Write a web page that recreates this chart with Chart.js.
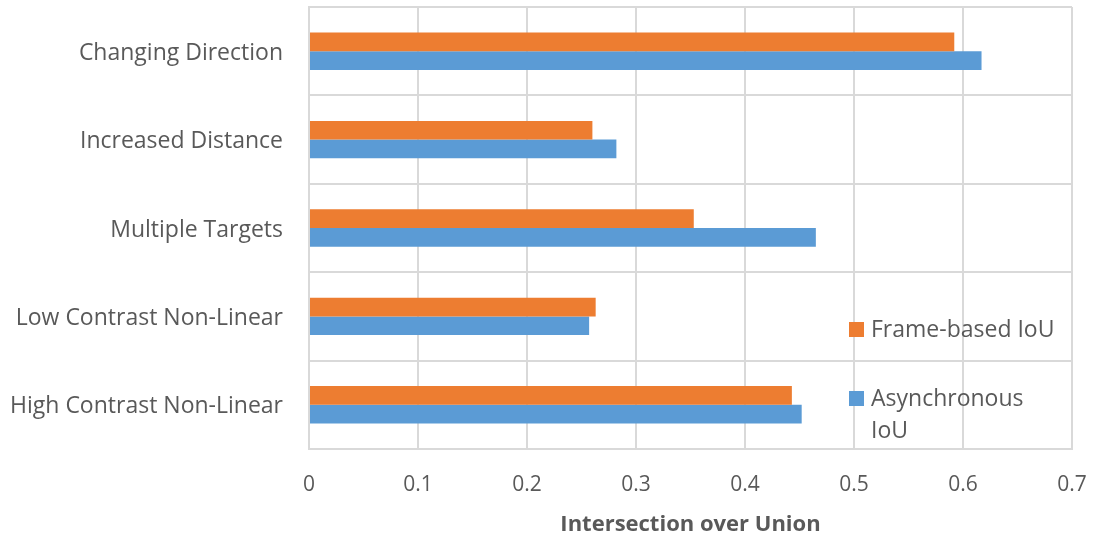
<!DOCTYPE html>
<html>
<head>
<meta charset="utf-8">
<script src="https://cdn.jsdelivr.net/npm/chart.js@4/dist/chart.umd.min.js"></script>
<style>
  html, body { margin: 0; padding: 0; background: #ffffff; }
  #wrap { position: relative; width: 1093px; height: 540px; }
</style>
</head>
<body>
<div id="wrap"><canvas id="chart" width="1093" height="540"></canvas></div>
<script>
// Scenarios (top to bottom) and IoU results per tracker
const categories = [
  "Changing Direction",
  "Increased Distance",
  "Multiple Targets",
  "Low Contrast Non-Linear",
  "High Contrast Non-Linear"
];
const frameBasedIoU   = [0.592, 0.260, 0.353, 0.263, 0.443];
const asynchronousIoU = [0.617, 0.282, 0.465, 0.257, 0.452];
const xTickLabels = ["0", "0.1", "0.2", "0.3", "0.4", "0.5", "0.6", "0.7"];
const seriesNames = ["Frame-based IoU", "Asynchronous IoU"];

const TEXT = "#595959";
const GRID = "#d9d9d9";
const FONT = "'Open Sans', 'DejaVu Sans', sans-serif";

// Legend drawn inside the plot area, lower right, with word wrapping
const insideLegend = {
  id: "insideLegend",
  afterDraw(chart) {
    const { ctx, chartArea } = chart;
    const boxLeft = chartArea.left + 540;
    const rows = [chartArea.bottom - 127, chartArea.bottom - 58];
    const maxWidth = 190;
    ctx.save();
    ctx.font = "23px " + FONT;
    ctx.textBaseline = "alphabetic";
    chart.data.datasets.forEach((ds, i) => {
      const top = rows[i];
      ctx.fillStyle = ds.backgroundColor;
      ctx.fillRect(boxLeft, top, 15, 15);
      // wrap words that do not fit the legend width
      const words = ds.label.split(" ");
      const lines = [];
      let line = "";
      words.forEach(w => {
        const test = line ? line + " " + w : w;
        if (ctx.measureText(test).width > maxWidth && line) {
          lines.push(line);
          line = w;
        } else {
          line = test;
        }
      });
      lines.push(line);
      ctx.fillStyle = TEXT;
      lines.forEach((l, j) => {
        ctx.fillText(l, boxLeft + 22, top + 15 + j * 32);
      });
    });
    ctx.restore();
  }
};

new Chart(document.getElementById("chart"), {
  type: "bar",
  data: {
    labels: categories,
    datasets: [
      {
        label: seriesNames[0],
        data: frameBasedIoU,
        backgroundColor: "#ED7D31",
        barPercentage: 1,
        categoryPercentage: 0.423
      },
      {
        label: seriesNames[1],
        data: asynchronousIoU,
        backgroundColor: "#5B9BD5",
        barPercentage: 1,
        categoryPercentage: 0.423
      }
    ]
  },
  options: {
    indexAxis: "y",
    responsive: false,
    animation: false,
    layout: { padding: { top: 7, right: 21, left: 0, bottom: 0 } },
    plugins: {
      legend: { display: false },
      tooltip: { enabled: false }
    },
    scales: {
      x: {
        min: 0,
        max: 0.7,
        afterFit(scale) {
          scale.height = 91;
          scale.paddingLeft = 0;
          scale.paddingRight = 0;
        },
        ticks: {
          stepSize: 0.1,
          padding: 23,
          color: TEXT,
          font: { family: FONT, size: 21 },
          callback: (v, i) => xTickLabels[i]
        },
        grid: { color: GRID, lineWidth: 2, drawTicks: false },
        border: { color: GRID, width: 2 },
        title: {
          display: true,
          text: "Intersection over Union",
          color: TEXT,
          font: { family: FONT, size: 22, weight: "bold" },
          padding: { top: 0, bottom: 2 }
        }
      },
      y: {
        afterFit(scale) {
          scale.width = 309;
          scale.paddingTop = 0;
          scale.paddingBottom = 0;
        },
        ticks: {
          padding: 26,
          labelOffset: 2,
          color: TEXT,
          font: { family: FONT, size: 23 }
        },
        grid: { color: GRID, lineWidth: 2, drawTicks: false },
        border: { color: GRID, width: 2 }
      }
    }
  },
  plugins: [insideLegend]
});
</script>
</body>
</html>
